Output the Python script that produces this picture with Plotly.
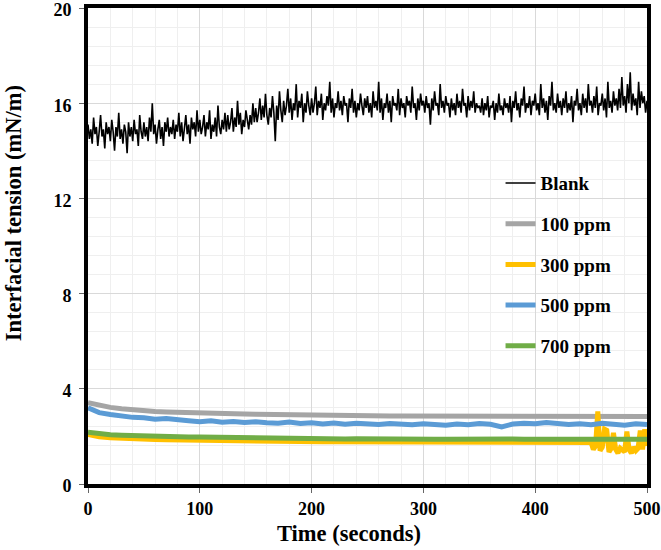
import plotly.graph_objects as go

# ---------------- data ----------------
blank_step = 1.25
blank_values = [
    15.1, 14.5, 14.9, 14.3, 15.4, 14.7, 15.0, 14.2, 14.8, 15.5, 14.6, 14.9, 14.1, 15.2, 14.7, 15.0, 14.4, 15.3, 14.8, 14.0,
    15.0, 14.6, 15.6, 14.5, 14.9, 14.3, 15.1, 14.8, 13.9, 15.2, 14.6, 15.0, 14.4, 15.3, 14.7, 14.9, 14.2, 15.5, 14.8, 14.5,
    15.2, 14.6, 15.0, 14.4, 15.4, 14.8, 16.0, 14.7, 15.1, 14.3, 14.9, 15.3, 14.5, 15.0, 14.2, 15.2, 14.8, 15.4, 14.6, 15.0,
    14.7, 15.3, 14.5, 15.1, 14.8, 15.6, 14.6, 15.2, 14.4, 15.0, 15.5, 14.7, 15.1, 14.3, 15.4, 14.9, 15.2, 14.6, 15.7, 14.8,
    15.3, 14.7, 15.0, 15.5, 14.6, 15.2, 14.9, 15.7, 14.5, 15.1, 14.8, 15.4, 14.6, 15.9, 15.0, 14.7, 15.3, 14.9, 15.6, 14.8,
    15.5, 14.9, 15.2, 15.8, 14.8, 15.4, 15.0, 16.1, 15.1, 15.6, 14.7, 15.3, 15.0, 15.7, 15.2, 14.9, 15.5, 15.1, 16.0, 15.2,
    15.8, 15.2, 15.6, 16.2, 15.3, 15.9, 15.4, 16.4, 15.5, 15.1, 15.8, 15.4, 16.3, 15.6, 14.4, 15.9, 15.3, 16.5, 15.7, 15.2,
    16.1, 15.5, 15.9, 16.6, 15.6, 16.2, 15.3, 16.0, 15.7, 16.8, 15.4, 16.1, 15.8, 16.4, 15.2, 16.0, 15.6, 16.5, 15.9, 15.5,
    16.2, 15.6, 16.0, 16.7, 15.5, 16.1, 15.8, 16.4, 15.3, 16.0, 15.7, 16.3, 15.9, 16.9, 15.6, 16.2, 15.4, 16.0, 15.8, 16.5,
    15.7, 16.1, 15.5, 16.3, 15.9, 16.0, 15.2, 16.2, 15.8, 16.6, 15.6, 16.1, 15.4, 16.0, 15.7, 16.4, 15.9, 15.5, 16.2, 15.8,
    16.3, 15.6, 16.0, 15.4, 16.5, 15.8, 16.1, 15.7, 16.9, 15.6, 16.2, 15.3, 16.0, 15.8, 16.4, 15.6, 16.1, 15.2, 16.3, 15.9,
    16.0, 15.7, 16.6, 15.5, 16.2, 15.8, 16.0, 15.4, 16.3, 15.9, 16.1, 15.6, 16.7, 15.8, 16.0, 15.3, 16.2, 15.7, 16.4, 15.9,
    16.1, 15.6, 16.3, 15.8, 16.0, 15.1, 16.2, 15.7, 16.5, 15.9, 16.0, 15.5, 16.8, 15.8, 16.1, 15.6, 16.3, 15.9, 16.0, 15.4,
    16.2, 15.7, 16.0, 15.5, 16.4, 15.8, 16.1, 15.6, 16.6, 15.9, 16.0, 15.4, 16.3, 15.7, 16.1, 15.8, 16.5, 15.6, 16.0, 15.8,
    15.9, 15.6, 16.2, 15.5, 16.0, 15.7, 16.3, 15.4, 15.9, 15.8, 16.1, 15.3, 16.0, 15.6, 16.4, 15.7, 15.9, 15.5, 16.2, 15.8,
    16.0, 15.6, 16.3, 15.2, 16.1, 15.8, 16.5, 15.7, 16.0, 15.4, 16.2, 15.9, 16.7, 15.6, 16.0, 15.8, 16.3, 15.5, 16.1, 15.9,
    16.4, 15.7, 16.0, 15.5, 16.8, 15.8, 16.2, 15.6, 16.1, 15.3, 16.3, 15.9, 16.9, 15.7, 16.0, 15.6, 16.4, 15.8, 16.1, 15.5,
    16.2, 15.8, 16.5, 15.6, 16.0, 15.7, 16.3, 15.2, 16.1, 15.9, 16.6, 15.7, 16.0, 15.5, 16.4, 15.8, 16.2, 15.6, 16.8, 15.9,
    16.1, 15.6, 16.3, 15.8, 16.7, 15.5, 16.0, 15.9, 16.4, 15.7, 16.2, 15.4, 16.9, 15.8, 16.1, 15.6, 16.5, 15.9, 16.2, 15.7,
    16.6, 15.8, 17.1, 15.9, 16.3, 15.6, 16.8, 16.0, 17.3, 15.7, 16.4, 15.9, 16.2, 15.5, 16.9, 15.8, 16.5, 16.0, 16.3, 15.6,
    16.1,
]
blank_time = [i * blank_step for i in range(len(blank_values))]

smooth_time = [i * 10 for i in range(51)]
ppm100 = [
    3.42, 3.30, 3.22, 3.16, 3.11, 3.08, 3.05, 3.03, 3.01, 3.00,
    2.99, 2.98, 2.96, 2.95, 2.94, 2.93, 2.92, 2.91, 2.91, 2.90,
    2.89, 2.89, 2.88, 2.88, 2.87, 2.88, 2.87, 2.86, 2.86, 2.86,
    2.85, 2.85, 2.85, 2.86, 2.85, 2.84, 2.85, 2.84, 2.84, 2.85,
    2.84, 2.84, 2.85, 2.84, 2.84, 2.83, 2.84, 2.84, 2.83, 2.84, 2.84,
]
ppm500 = [
    3.20, 3.00, 2.92, 2.85, 2.80, 2.78, 2.72, 2.75, 2.68, 2.66,
    2.62, 2.66, 2.60, 2.63, 2.58, 2.61, 2.57, 2.55, 2.60, 2.54,
    2.57, 2.52, 2.56, 2.51, 2.55, 2.53, 2.50, 2.54, 2.52, 2.49,
    2.53, 2.50, 2.47, 2.52, 2.49, 2.54, 2.51, 2.40, 2.52, 2.55,
    2.53, 2.58, 2.54, 2.50, 2.53, 2.49, 2.55, 2.51, 2.47, 2.53, 2.50,
]
ppm700 = [
    2.18, 2.10, 2.07, 2.05, 2.03, 2.02, 2.01, 2.00, 1.99, 1.98,
    1.98, 1.97, 1.96, 1.95, 1.94, 1.94, 1.93, 1.92, 1.92, 1.91,
    1.91, 1.90, 1.90, 1.89, 1.90, 1.89, 1.89, 1.88, 1.89, 1.88,
    1.89, 1.88, 1.88, 1.89, 1.90, 1.89, 1.88, 1.88, 1.89, 1.88,
    1.88, 1.87, 1.88, 1.88, 1.88, 1.87, 1.88, 1.88, 1.87, 1.88, 1.88,
]
ppm300_time = [
    0, 10, 20, 30, 40, 50, 60, 70, 80, 90,
    100, 110, 120, 130, 140, 150, 160, 170, 180, 190,
    200, 210, 220, 230, 240, 250, 260, 270, 280, 290,
    300, 310, 320, 330, 340, 350, 360, 370, 380, 390,
    400, 410, 420, 430, 440, 450,
    452, 454, 456, 458, 460, 462, 464, 466, 468, 470,
    472, 474, 476, 478, 480, 482, 484, 486, 488, 490,
    492, 494, 496, 498, 500,
]
ppm300 = [
    2.08, 1.98, 1.94, 1.91, 1.89, 1.88, 1.87, 1.86, 1.85, 1.84,
    1.83, 1.82, 1.81, 1.81, 1.80, 1.80, 1.79, 1.79, 1.78, 1.78,
    1.78, 1.77, 1.77, 1.77, 1.76, 1.76, 1.76, 1.76, 1.75, 1.75,
    1.75, 1.75, 1.75, 1.75, 1.75, 1.74, 1.75, 1.75, 1.74, 1.75,
    1.75, 1.75, 1.74, 1.75, 1.75, 1.74,
    1.45, 1.60, 3.05, 1.40, 1.55, 2.30, 2.25, 1.35, 1.50, 2.15,
    1.45, 1.30, 1.50, 1.40, 1.35, 2.20, 1.45, 1.30, 1.55, 1.40,
    1.50, 2.25, 1.45, 2.30, 1.60,
]

x_ticks = [0, 100, 200, 300, 400, 500]
y_ticks = [0, 4, 8, 12, 16, 20]
x_title = "Time (seconds)"
y_title = "Interfacial tension (mN/m)"

# ---------------- figure ----------------
FONT = "Liberation Serif"
fig = go.Figure()

fig.add_trace(go.Scatter(x=blank_time, y=blank_values, mode="lines", name="Blank",
                         legendgroup="a", line=dict(color="#000000", width=1.6)))
fig.add_trace(go.Scatter(x=smooth_time, y=ppm100, mode="lines", name="100 ppm",
                         legendgroup="b", line=dict(color="#A5A5A5", width=5)))
fig.add_trace(go.Scatter(x=ppm300_time, y=ppm300, mode="lines", name="300 ppm",
                         legendgroup="c", line=dict(color="#FFC000", width=5)))
fig.add_trace(go.Scatter(x=smooth_time, y=ppm500, mode="lines", name="500 ppm",
                         legendgroup="d", line=dict(color="#5B9BD5", width=5)))
fig.add_trace(go.Scatter(x=smooth_time, y=ppm700, mode="lines", name="700 ppm",
                         legendgroup="e", line=dict(color="#70AD47", width=5)))

tickfont = dict(family=FONT, size=18, color="#000000", weight="bold")
titlefont = dict(family=FONT, size=22.5, color="#000000", weight="bold")

fig.update_layout(
    width=661, height=550,
    margin=dict(l=88, r=14, t=8, b=66),
    paper_bgcolor="#FFFFFF", plot_bgcolor="#FFFFFF",
    showlegend=True,
    legend=dict(
        x=0.738, y=0.672, xanchor="left", yanchor="top",
        bgcolor="rgba(0,0,0,0)", borderwidth=0,
        traceorder="grouped", tracegroupgap=13,
        font=dict(family=FONT, size=19, color="#000000", weight="bold"),
    ),
    xaxis=dict(
        range=[0, 500], tickvals=x_ticks, tickfont=tickfont, automargin=False,
        showline=True, linecolor="#000000", linewidth=4, mirror=True,
        showgrid=True, gridcolor="#D9D9D9", gridwidth=1,
        minor=dict(dtick=20, showgrid=True, gridcolor="#EFEFEF", gridwidth=1),
        ticks="outside", ticklen=5, tickwidth=1, tickcolor="#666666",
        zeroline=False, ticklabelstandoff=0, ticklabeloverflow="allow",
    ),
    yaxis=dict(
        range=[0, 20], tickvals=y_ticks, tickfont=tickfont, automargin=False,
        showline=True, linecolor="#000000", linewidth=4, mirror=True,
        showgrid=True, gridcolor="#D9D9D9", gridwidth=1,
        minor=dict(dtick=0.8, showgrid=True, gridcolor="#EFEFEF", gridwidth=1),
        ticks="outside", ticklen=5, tickwidth=1, tickcolor="#666666",
        zeroline=False, ticklabelstandoff=4, ticklabeloverflow="allow",
        ticklabelshift=2,
    ),
    annotations=[
        dict(text=x_title, xref="paper", yref="paper", x=0.467, y=-0.103,
             xanchor="center", yanchor="middle", showarrow=False, font=titlefont),
        dict(text=y_title, xref="paper", yref="paper", x=-0.134, y=0.569,
             xanchor="center", yanchor="middle", showarrow=False, font=titlefont,
             textangle=-90),
    ],
)

fig.write_html(
    "out.html",
    config={"displayModeBar": False},
    post_script="document.body.style.margin='0';document.body.style.overflow='hidden';",
)
